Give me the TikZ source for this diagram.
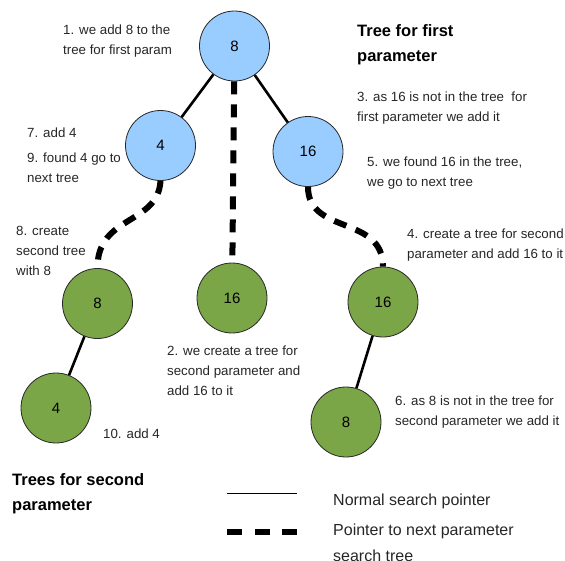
\documentclass[tikz,border=0pt]{standalone}
\usepackage{fontspec}
\setmainfont{Liberation Sans}
\definecolor{firstblue}{RGB}{153,204,255}
\definecolor{secondgreen}{RGB}{122,166,72}
\begin{document}
\begin{tikzpicture}[x=1pt,y=-1pt,
  treenode/.style={circle,draw=black!85,line width=0.8pt,minimum size=70pt,inner sep=0pt,
    font=\fontsize{15}{18}\selectfont},
  firstnode/.style={treenode,fill=firstblue},
  secondnode/.style={treenode,fill=secondgreen},
  searchptr/.style={line width=2.6pt},
  nextptr/.style={line width=6pt,dash pattern=on 13pt off 10pt},
  legendnext/.style={line width=6pt,dash pattern=on 15pt off 12.5pt},
  % multi-line text nodes are placed by the baseline of their last line
  note/.style={anchor=base west,inner sep=0pt,align=left,
    font=\fontsize{13.3}{20}\selectfont,text=black!85},
  heading/.style={anchor=base west,inner sep=0pt,align=left,
    font=\fontsize{16.5}{25}\selectfont\bfseries},
  legendtext/.style={anchor=base west,inner sep=0pt,align=left,
    font=\fontsize{16}{26}\selectfont,text=black!85}]
\useasboundingbox (0,0) rectangle (565,560);

% tree for the first parameter
\node[firstnode]  (r8)   at (234.5,46)  {8};
\node[firstnode]  (b4)   at (160.5,145.5) {4};
\node[firstnode]  (b16)  at (308,151.5) {16};

% trees for the second parameter
\node[secondnode] (g8)   at (97.5,303.5) {8};
\node[secondnode] (g16m) at (232,298)   {16};
\node[secondnode] (g16r) at (383,302)   {16};
\node[secondnode] (g4)   at (56,408)    {4};
\node[secondnode] (g8r)  at (346,422)   {8};

% normal search pointers
\draw[searchptr] (r8) -- (b4);
\draw[searchptr] (r8) -- (b16);
\draw[searchptr] (g8) -- (g4);
\draw[searchptr] (g16r) -- (g8r);

% pointers to the next parameter search tree
\draw[nextptr] (r8) -- (g16m);
\draw[nextptr] (b4.south) .. controls (158,225) and (97,215) .. (g8.north);
\draw[nextptr] (b16.south) .. controls (308,235) and (383,215) .. (g16r.north);

% step notes
\node[note] (n1)  at (63,54)   {1. we add 8 to the\\tree for first param};
\node[note] (n7)  at (27,137)  {7. add 4};
\node[note] (n9)  at (27,182)  {9. found 4 go to\\next tree};
\node[note] (n3)  at (357,121) {3. as 16 is not in the tree~ for\\first parameter we add it};
\node[note] (n5)  at (367,186) {5. we found 16 in the tree,\\we go to next tree};
\node[note] (n8)  at (16,275)  {8. create\\second tree\\with 8};
\node[note] (n4)  at (407,258) {4. create a tree for second\\parameter and add 16 to it};
\node[note] (n2)  at (167,395) {2. we create a tree for\\second parameter and\\add 16 to it};
\node[note] (n6)  at (395,425) {6. as 8 is not in the tree for\\second parameter we add it};
\node[note] (n10) at (103,438) {10. add 4};

% headings
\node[heading] (h1) at (357,61)  {Tree for first\\parameter};
\node[heading] (h2) at (12,510)  {Trees for second\\parameter};

% legend
\coordinate (ls1) at (227,493);
\coordinate (ls2) at (297,493);
\coordinate (ld1) at (227,532);
\coordinate (ld2) at (297,532);
\draw[line width=1pt] (ls1) -- (ls2);
\draw[legendnext] (ld1) -- (ld2);
\node[legendtext] (l1) at (333,505) {Normal search pointer};
\node[legendtext] (l2) at (333,561) {Pointer to next parameter\\search tree};
\end{tikzpicture}
\end{document}
